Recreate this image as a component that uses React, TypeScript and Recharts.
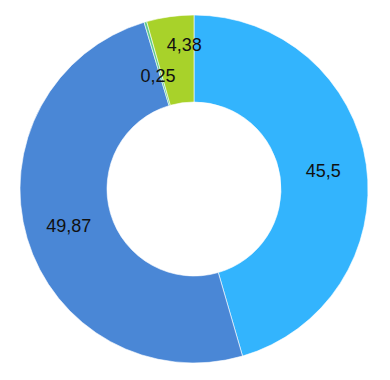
import { PieChart, Pie, Cell } from "recharts";

const names = ["A", "B", "C", "D"];
const values = [45.5, 49.87, 0.25, 4.38];
const colors = ["#33b4fd", "#4a87d6", "#5cc98c", "#a8d22a"];
const labelText = ["45,5", "49,87", "0,25", "4,38"];

const data = names.map((name, i) => ({ name, value: values[i] }));

const RAD = Math.PI / 180;

// small slices at the top get nudged so their labels do not collide
const labelRadius = [0.5, 0.5, 0.36, 0.66];
const labelShift = [0, 0, 1.5, -4];

function renderLabel(props: any) {
  const { cx, cy, midAngle, innerRadius, outerRadius, index } = props;
  const r = innerRadius + (outerRadius - innerRadius) * labelRadius[index];
  const a = (midAngle + labelShift[index]) * RAD;
  const x = cx + r * Math.cos(a);
  const y = cy - r * Math.sin(a);
  return (
    <text
      x={x}
      y={y}
      textAnchor="middle"
      dominantBaseline="central"
      fill="#111"
      fontSize={18}
      fontFamily="Liberation Sans, Arial, sans-serif"
    >
      {labelText[index]}
    </text>
  );
}

export default function App() {
  return (
    <div style={{ position: "absolute", left: 0, top: 0, width: 390, height: 380, background: "#fff" }}>
      <PieChart width={390} height={380} margin={{ top: 0, right: 0, bottom: 0, left: 0 }}>
        <Pie
          data={data}
          dataKey="value"
          cx={194}
          cy={189}
          innerRadius={87}
          outerRadius={174}
          startAngle={90}
          endAngle={-270}
          stroke="#ffffff"
          strokeWidth={0.6}
          label={renderLabel}
          labelLine={false}
          isAnimationActive={false}
        >
          {data.map((d, i) => (
            <Cell key={d.name} fill={colors[i]} />
          ))}
        </Pie>
      </PieChart>
    </div>
  );
}
